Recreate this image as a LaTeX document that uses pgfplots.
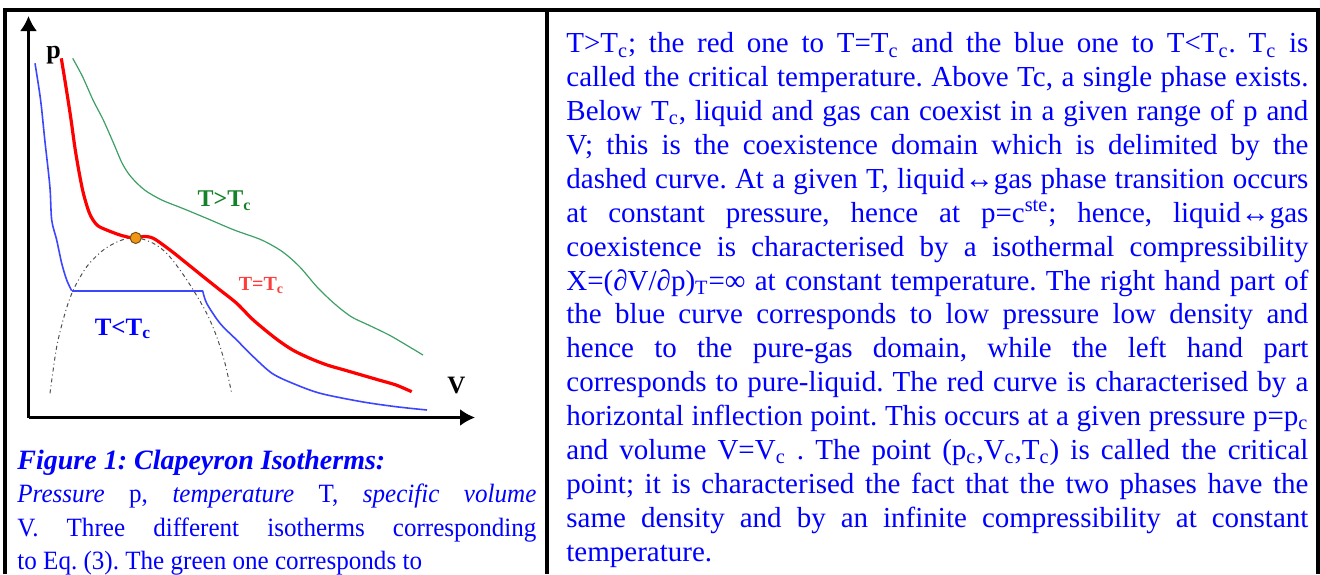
\documentclass[border=0pt]{standalone}
\usepackage{fontspec}
\setmainfont{Liberation Serif}
\newfontfamily\capfam[FakeStretch=0.95]{Liberation Serif}
\usepackage{pgfplots}
\pgfplotsset{compat=1.18}
\usetikzlibrary{arrows.meta}
\definecolor{txtblue}{RGB}{0,0,255}
\definecolor{cblue}{RGB}{60,70,255}
\definecolor{cred}{RGB}{255,0,0}
\definecolor{cgreen}{RGB}{60,160,100}
\definecolor{lgreen}{RGB}{20,130,40}
\definecolor{lred}{RGB}{255,60,60}
\definecolor{domec}{RGB}{80,80,80}
\definecolor{dotfill}{RGB}{240,150,20}
\definecolor{dotdraw}{RGB}{120,80,20}
\newcommand{\rfont}{\fontsize{14.5}{17}\selectfont\frenchspacing}
\newcommand{\cfont}{\capfam\fontsize{13.2}{15}\selectfont\frenchspacing}
\newcommand{\rline}[2]{\node[anchor=base west,inner sep=0pt,text=txtblue,font=\rfont] at (566,#1) {\makebox[371pt][s]{#2}};}
\begin{document}
\frenchspacing
\begin{tikzpicture}[x=0.5pt,y=-0.5pt]
\useasboundingbox (0,0) rectangle (1320,574);
\clip (0,0) rectangle (1320,574);
% frame
\draw[line width=2pt] (5,574) -- (5,10) -- (1318,10) -- (1318,574);
\draw[line width=2pt] (547,10) -- (547,574);
% plot
\begin{axis}[
  at={(14.25pt,-208.75pt)}, anchor=south west,
  scale only axis, width=223.25pt, height=200.75pt,
  xmin=0, xmax=446.5, ymin=0, ymax=401.5,
  axis lines*=left, enlargelimits=false,
  axis line style={line width=1.2pt, -{Latex[length=7.5pt,width=8.5pt]}},
  xtick=\empty, ytick=\empty,
  clip=false,
]
% coexistence dome
\addplot[domec, line width=0.5pt, dash pattern=on 2pt off 1.5pt on 0.5pt off 1.5pt, smooth] coordinates {
(21.5,24.2) (28.2,70.8) (36.5,104.2) (44.8,127.5) (58.2,150.8) (74.8,167.5) (91.5,176.8) (107.2,180)
(124.8,174.2) (138.2,164.2) (151.5,147.5) (164.8,127.5) (178.2,104.2) (188.2,80.8) (196.5,54.2) (203.2,24.2)};
% T < Tc
\addplot[cblue, line width=0.8pt, smooth] coordinates {
(6.5,354.2) (12.1,317.5) (16.3,277.5) (21.4,230.8) (23.2,197.5) (28.2,177.5) (33.2,154.2) (38.2,137.5) (43.2,126.8)};
\addplot[cblue, line width=0.8pt] coordinates {(43.2,126.8) (174.2,126.8)};
\addplot[cblue, line width=0.8pt, smooth] coordinates {
(174.2,126.8) (178.2,114.2) (191.5,94.2) (208.2,77.5) (224.8,60.8) (243.5,44.2) (264.2,34.2) (291.7,24.2)
(333.1,15.8) (367.5,10.8) (398.5,7.5)};
% T > Tc
\addplot[cgreen, line width=0.6pt, smooth] coordinates {
(44.2,359.2) (54.1,340.8) (64.5,317.5) (74.8,297.5) (85.1,274.2) (93.7,254.2) (102.4,240.8) (116.1,227.5)
(133.3,217.5) (154,209.2) (178.1,199.2) (205.7,187.5) (233.2,177.5) (253.9,165.8) (271.1,150.8) (288.3,130.8)
(305.5,114.2) (322.7,100.8) (340,92.5) (360.6,82.5) (377.8,72.5) (394.5,62.5)};
% T = Tc
\addplot[cred, line width=1.6pt, smooth] coordinates {
(32.8,359.2) (36.9,334.2) (42.1,300.8) (47.3,264.2) (54.1,227.5) (61,204.2) (68.5,192.5) (78.2,187.5)
(91.5,182.5) (101.5,180) (107.2,179.4) (114.8,181) (124.8,179.2) (141.5,167.5) (158.2,154.2) (174.8,140.8)
(191.5,127.5) (208.2,114.2) (224.8,97.5) (247,79.2) (264.2,67.5) (281.4,59.2) (298.6,52.5) (315.9,47.5)
(333.1,42.5) (350.3,37.5) (367.5,32.5) (383.2,25.8)};
% critical point
\addplot[only marks, mark=*, mark size=2.8pt, mark options={fill=dotfill, draw=dotdraw, line width=0.5pt}] coordinates {(107.2,179.6)};
\node[anchor=base, text=lgreen, font=\fontsize{12}{14}\selectfont\bfseries] at (axis cs:196,210.8) {T>T\textsubscript{c}};
\node[anchor=base, text=lred, font=\fontsize{10}{12}\selectfont\bfseries] at (axis cs:233,127.5) {T=T\textsubscript{c}};
\node[anchor=base, text=blue, font=\fontsize{12.5}{14}\selectfont\bfseries] at (axis cs:94.5,82.5) {T<T\textsubscript{c}};
\node[anchor=base, font=\fontsize{13}{14}\selectfont\bfseries] at (axis cs:25,359.5) {p};
\node[anchor=base, font=\fontsize{12.5}{14}\selectfont\bfseries] at (axis cs:428,24.2) {V};
\end{axis}
% caption
\node[anchor=base west,inner sep=0pt,text=txtblue,font=\fontsize{14}{17}\selectfont\bfseries\itshape] at (17,469.3) {Figure 1: Clapeyron Isotherms:};
\node[anchor=base west,inner sep=0pt,text=txtblue,font=\cfont] at (17,502.7) {\makebox[259.5pt][s]{\textit{Pressure} p, \textit{temperature} T, \textit{specific volume}}};
\node[anchor=base west,inner sep=0pt,text=txtblue,font=\cfont] at (17,536) {\makebox[259.5pt][s]{V. Three different isotherms corresponding}};
\node[anchor=base west,inner sep=0pt,text=txtblue,font=\cfont] at (17,569.3) {to Eq. (3). The green one corresponds to};
% right column
\rline{52.7}{T>T\textsubscript{c}; the red one to T=T\textsubscript{c} and the blue one to T<T\textsubscript{c}. T\textsubscript{c} is}
\rline{86.6}{called the critical temperature. Above Tc, a single phase exists.}
\rline{120.5}{Below T\textsubscript{c}, liquid and gas can coexist in a given range of p and}
\rline{154.4}{V; this is the coexistence domain which is delimited by the}
\rline{188.3}{dashed curve. At a given T, liquid↔gas phase transition occurs}
\rline{222.2}{at constant pressure, hence at p=c\textsuperscript{ste}; hence, liquid↔gas}
\rline{256.1}{coexistence is characterised by a isothermal compressibility}
\rline{290.0}{X=(∂V/∂p)\textsubscript{T}=∞ at constant temperature. The right hand part of}
\rline{323.9}{the blue curve corresponds to low pressure low density and}
\rline{357.8}{hence to the pure-gas domain, while the left hand part}
\rline{391.7}{corresponds to pure-liquid. The red curve is characterised by a}
\rline{425.6}{horizontal inflection point. This occurs at a given pressure p=p\textsubscript{c}}
\rline{459.5}{and volume V=V\textsubscript{c} . The point (p\textsubscript{c},V\textsubscript{c},T\textsubscript{c}) is called the critical}
\rline{493.4}{point; it is characterised the fact that the two phases have the}
\rline{527.3}{same density and by an infinite compressibility at constant}
\node[anchor=base west,inner sep=0pt,text=txtblue,font=\rfont] at (566,561.2) {temperature.};
\end{tikzpicture}
\end{document}
